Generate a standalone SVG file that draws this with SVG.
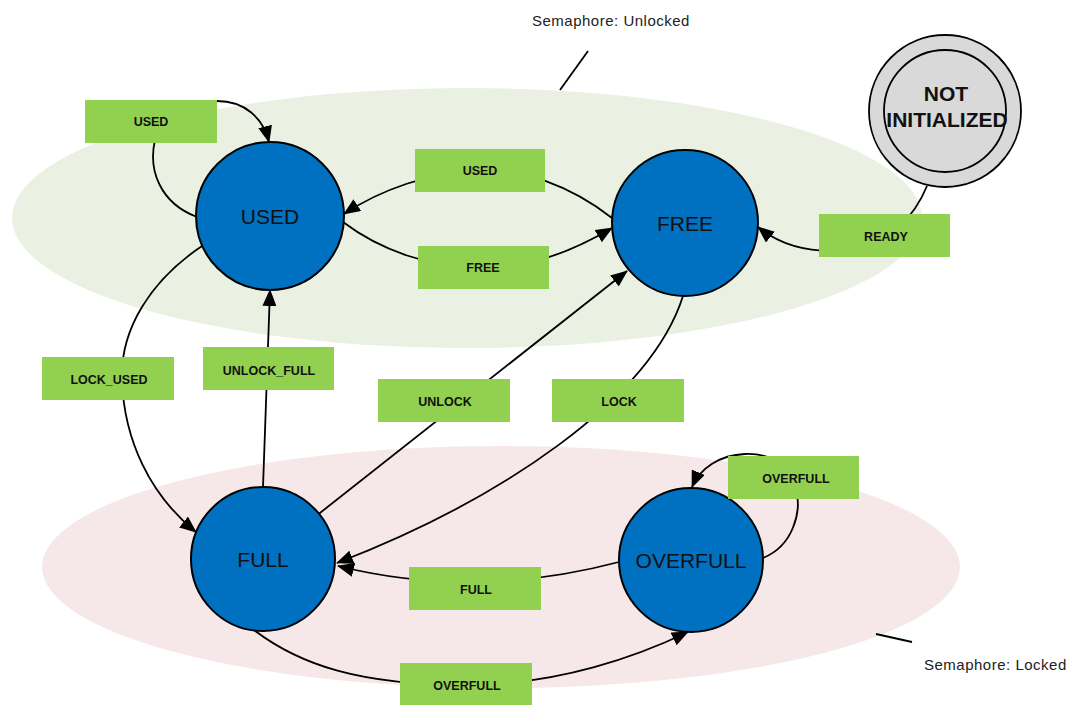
<svg xmlns="http://www.w3.org/2000/svg" width="1068" height="705" viewBox="0 0 1068 705">
<style>
.zone{stroke:none}
.state{fill:#0070c0;stroke:#000;stroke-width:2}
.stxt{font-family:"Liberation Sans",Arial,sans-serif;font-size:21px;fill:#111;text-anchor:middle}
.lbl{fill:#92d050;stroke:none}
.ltxt{font-family:"Liberation Sans",Arial,sans-serif;font-size:12.5px;font-weight:bold;fill:#111;text-anchor:middle}
.edge{fill:none;stroke:#000;stroke-width:1.8}
.note{font-family:"Liberation Sans",Arial,sans-serif;font-size:15px;letter-spacing:0.5px;fill:#222}
</style>
<defs>
<marker id="arr" markerUnits="userSpaceOnUse" markerWidth="18" markerHeight="14" refX="16" refY="7" orient="auto">
<path d="M0,0 L17,7 L0,14 Z" fill="#000"/>
</marker>
</defs>
<rect width="1068" height="705" fill="#fff"/>
<g id="zones">
<ellipse class="zone" cx="467" cy="218" rx="455" ry="130" fill="#ebf1e2"/>
<ellipse class="zone" cx="501" cy="567" rx="459" ry="121" fill="#f6e8e8"/>
</g>
<g id="connectors">
<path class="edge" d="M197,217 C160,203 148,170 155,140 C162,110 190,101 217,101 C245,101 263,118 269,142" marker-end="url(#arr)"/>
<path class="edge" d="M612,218 C570,185 520,168 480,170 C430,172 380,190 344,214" marker-end="url(#arr)"/>
<path class="edge" d="M343,222 C380,250 430,268 483,268 C530,268 575,250 612,228" marker-end="url(#arr)"/>
<path class="edge" d="M927,186 C915,215 890,245 850,250 C810,254 780,245 758,227" marker-end="url(#arr)"/>
<path class="edge" d="M205,244 C150,280 120,330 122,380 C124,440 150,495 196,532" marker-end="url(#arr)"/>
<path class="edge" d="M263,487 L270,290" marker-end="url(#arr)"/>
<path class="edge" d="M311,520 L627,271" marker-end="url(#arr)"/>
<path class="edge" d="M683,296 C650,400 500,500 337,563" marker-end="url(#arr)"/>
<path class="edge" d="M619,562 Q475,600 338,566" marker-end="url(#arr)"/>
<path class="edge" d="M254,630 C300,665 360,685 466,685 C560,685 640,655 688,632" marker-end="url(#arr)"/>
<path class="edge" d="M763,558 C795,545 800,510 797,495 C793,465 770,453 745,454 C720,455 700,468 692,487" marker-end="url(#arr)"/>
<path class="edge" d="M588,51 L560,90"/>
<path class="edge" d="M876,634 L912,642"/>
</g>
<g id="node-used"><circle class="state" cx="270" cy="216" r="74"/><text class="stxt" x="270" y="224">USED</text></g>
<g id="node-free"><circle class="state" cx="685" cy="223" r="73"/><text class="stxt" x="685" y="231">FREE</text></g>
<g id="node-full"><circle class="state" cx="263" cy="559" r="72"/><text class="stxt" x="263" y="567">FULL</text></g>
<g id="node-overfull"><circle class="state" cx="691" cy="560" r="72"/><text class="stxt" x="691" y="568">OVERFULL</text></g>
<g id="node-notinit">
<circle cx="945" cy="111" r="76" fill="#d9d9d9" stroke="#000" stroke-width="1.8"/>
<circle cx="945" cy="111" r="61" fill="#d9d9d9" stroke="#000" stroke-width="1.8"/>
<text x="946" y="101" font-family="Liberation Sans,Arial,sans-serif" font-size="21" font-weight="bold" fill="#111" text-anchor="middle">NOT</text>
<text x="947" y="127" font-family="Liberation Sans,Arial,sans-serif" font-size="21" font-weight="bold" fill="#111" text-anchor="middle">INITIALIZED</text>
</g>
<g id="labels">
<g id="lbl-used-self"><rect class="lbl" x="85" y="100" width="132" height="43"/><text class="ltxt" x="151" y="126">USED</text></g>
<g id="lbl-used"><rect class="lbl" x="415" y="149" width="130" height="43"/><text class="ltxt" x="480" y="175">USED</text></g>
<g id="lbl-free"><rect class="lbl" x="418" y="246" width="131" height="43"/><text class="ltxt" x="483" y="272">FREE</text></g>
<g id="lbl-ready"><rect class="lbl" x="819" y="214" width="131" height="43"/><text class="ltxt" x="886" y="241">READY</text></g>
<g id="lbl-lockused"><rect class="lbl" x="42" y="357" width="132" height="43"/><text class="ltxt" x="109" y="384">LOCK_USED</text></g>
<g id="lbl-unlockfull"><rect class="lbl" x="203" y="347" width="131" height="43"/><text class="ltxt" x="269" y="375">UNLOCK_FULL</text></g>
<g id="lbl-unlock"><rect class="lbl" x="378" y="379" width="132" height="43"/><text class="ltxt" x="445" y="406">UNLOCK</text></g>
<g id="lbl-lock"><rect class="lbl" x="552" y="379" width="132" height="43"/><text class="ltxt" x="619" y="406">LOCK</text></g>
<g id="lbl-overfull-self"><rect class="lbl" x="728" y="456" width="131" height="43"/><text class="ltxt" x="796" y="483">OVERFULL</text></g>
<g id="lbl-full"><rect class="lbl" x="409" y="567" width="132" height="43"/><text class="ltxt" x="476" y="594">FULL</text></g>
<g id="lbl-overfull"><rect class="lbl" x="400" y="663" width="132" height="43"/><text class="ltxt" x="467" y="690">OVERFULL</text></g>
</g>
<g id="notes">
<text class="note" x="532" y="26">Semaphore: Unlocked</text>
<text class="note" x="924" y="670">Semaphore: Locked</text>
</g>
</svg>
